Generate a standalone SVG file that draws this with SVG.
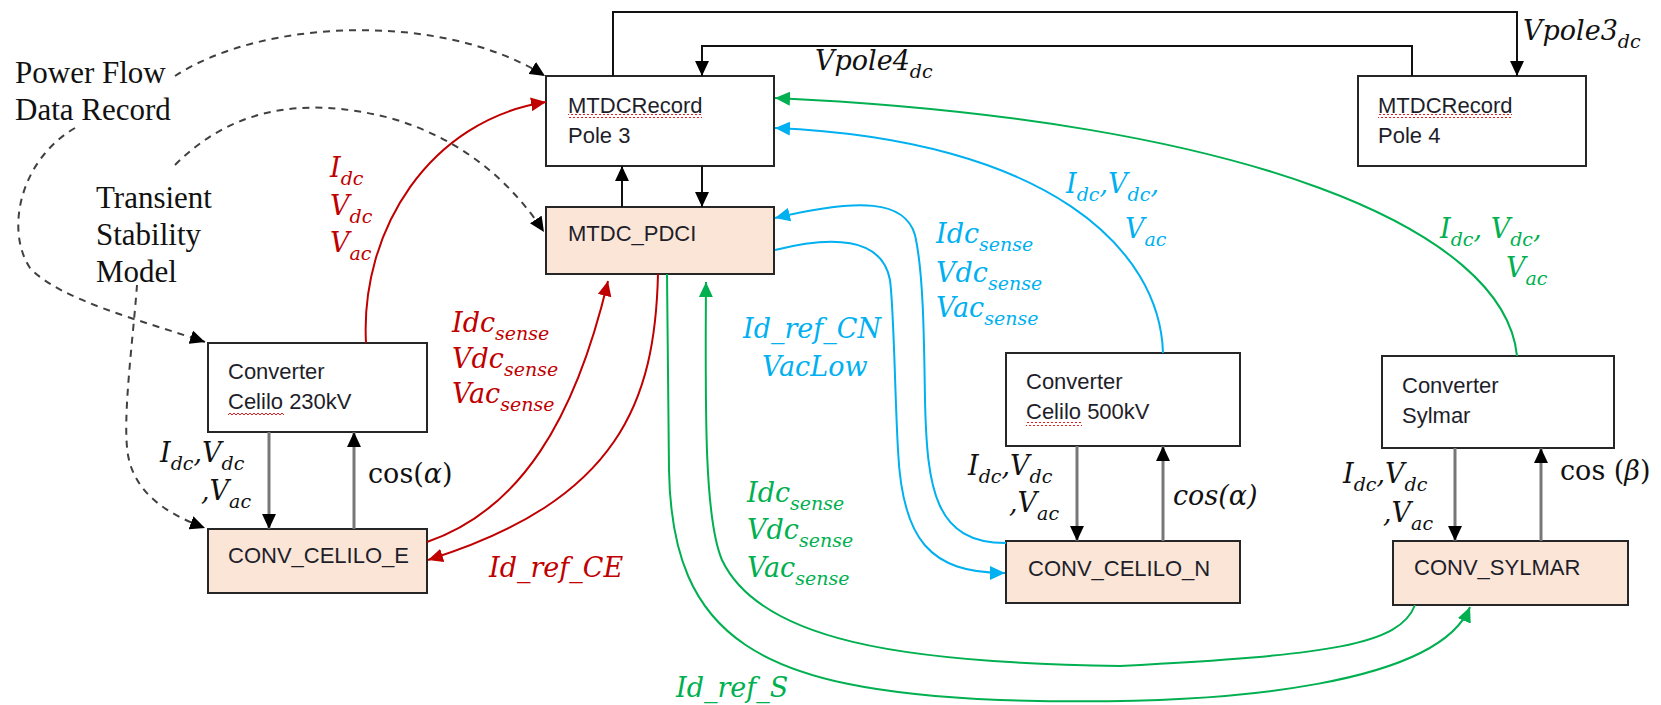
<svg xmlns="http://www.w3.org/2000/svg" width="1661" height="705" viewBox="0 0 1661 705">
<defs>
<style>
.bx{fill:#fff;stroke:#262626;stroke-width:2}
.bo{fill:#FBE5D6;stroke:#262626;stroke-width:2}
.t{font-family:"Liberation Sans",Arial,sans-serif;font-size:22px;fill:#1e1e2a}
.sv{font-family:"Liberation Serif","Times New Roman",serif;font-size:31px;fill:#111}
.m{font-family:"DejaVu Serif",serif;font-style:italic;font-size:27px;fill:#111}
.up{font-style:normal}
.s{font-size:19px}
.red{fill:#C00000}.blue{fill:#00B0F0}.green{fill:#00B050}
.k{fill:none;stroke:#111;stroke-width:2}
.g{fill:none;stroke:#777;stroke-width:3}
.d{fill:none;stroke:#404040;stroke-width:2;stroke-dasharray:7 6}
.cr{fill:none;stroke:#C00000;stroke-width:2}
.cb{fill:none;stroke:#00B0F0;stroke-width:2}
.cg{fill:none;stroke:#00B050;stroke-width:2}
</style>
<marker id="ak" viewBox="0 0 14 13" refX="14" refY="6.5" markerWidth="15" markerHeight="14" markerUnits="userSpaceOnUse" orient="auto"><path d="M0,0 L14,6.5 L0,13 z" fill="#000"/></marker>
<marker id="ar" viewBox="0 0 14 13" refX="14" refY="6.5" markerWidth="15" markerHeight="14" markerUnits="userSpaceOnUse" orient="auto"><path d="M0,0 L14,6.5 L0,13 z" fill="#C00000"/></marker>
<marker id="ab" viewBox="0 0 14 13" refX="14" refY="6.5" markerWidth="15" markerHeight="14" markerUnits="userSpaceOnUse" orient="auto"><path d="M0,0 L14,6.5 L0,13 z" fill="#00B0F0"/></marker>
<marker id="ag" viewBox="0 0 14 13" refX="14" refY="6.5" markerWidth="15" markerHeight="14" markerUnits="userSpaceOnUse" orient="auto"><path d="M0,0 L14,6.5 L0,13 z" fill="#00B050"/></marker>
<pattern id="sq" width="4" height="4" patternUnits="userSpaceOnUse"><path d="M0,3 L2,1 L4,3" fill="none" stroke="#e02020" stroke-width="1"/></pattern>
</defs>

<g id="node-pole3">
<rect class="bx" x="546" y="76" width="228" height="90"/>
<text class="t" x="568" y="113">MTDCRecord</text>
<rect x="568" y="114" width="134" height="4" fill="url(#sq)"/>
<text class="t" x="568" y="143">Pole 3</text>
</g>
<g id="node-pole4">
<rect class="bx" x="1358" y="76" width="228" height="90"/>
<text class="t" x="1378" y="113">MTDCRecord</text>
<rect x="1378" y="114" width="134" height="4" fill="url(#sq)"/>
<text class="t" x="1378" y="143">Pole 4</text>
</g>
<g id="node-pdci">
<rect class="bo" x="546" y="207" width="228" height="67"/>
<text class="t" x="568" y="241">MTDC_PDCI</text>
</g>
<g id="node-conv230">
<rect class="bx" x="208" y="343" width="219" height="89"/>
<text class="t" x="228" y="379">Converter</text>
<text class="t" x="228" y="409">Celilo 230kV</text>
<rect x="228" y="412" width="56" height="4" fill="url(#sq)"/>
</g>
<g id="node-conv-celilo-e">
<rect class="bo" x="208" y="529" width="219" height="64"/>
<text class="t" x="228" y="563">CONV_CELILO_E</text>
</g>
<g id="node-conv500">
<rect class="bx" x="1006" y="353" width="234" height="93"/>
<text class="t" x="1026" y="389">Converter</text>
<text class="t" x="1026" y="419">Celilo 500kV</text>
<rect x="1026" y="422" width="56" height="4" fill="url(#sq)"/>
</g>
<g id="node-conv-celilo-n">
<rect class="bo" x="1006" y="541" width="234" height="62"/>
<text class="t" x="1028" y="576">CONV_CELILO_N</text>
</g>
<g id="node-conv-sylmar-top">
<rect class="bx" x="1382" y="356" width="232" height="92"/>
<text class="t" x="1402" y="393">Converter</text>
<text class="t" x="1402" y="423">Sylmar</text>
</g>
<g id="node-conv-sylmar">
<rect class="bo" x="1393" y="541" width="235" height="64"/>
<text class="t" x="1414" y="575">CONV_SYLMAR</text>
</g>
<g id="node-texts">
<text class="sv" x="15" y="83">Power Flow</text>
<text class="sv" x="15" y="120">Data Record</text>
<text class="sv" x="96" y="208">Transient</text>
<text class="sv" x="96" y="245">Stability</text>
<text class="sv" x="96" y="282">Model</text>
</g>

<g id="connectors">
<path class="d" d="M175,76 C260,20 440,10 545,76" marker-end="url(#ak)"/>
<path class="d" d="M175,165 C230,110 300,95 390,118 C460,138 510,180 544,232" marker-end="url(#ak)"/>
<path class="d" d="M75,128 C20,160 5,230 30,268 C60,300 140,320 205,342" marker-end="url(#ak)"/>
<path class="d" d="M137,285 C133,340 122,420 128,455 C135,495 170,515 205,528" marker-end="url(#ak)"/>

<path class="k" d="M613,76 L613,12 L1517,12 L1517,76" marker-end="url(#ak)"/>
<path class="k" d="M1412,76 L1412,46 L702,46 L702,76" marker-end="url(#ak)"/>
<path class="k" d="M622,207 L622,166" marker-end="url(#ak)"/>
<path class="k" d="M702,166 L702,207" marker-end="url(#ak)"/>

<path class="g" d="M269,432 L269,529" marker-end="url(#ak)"/>
<path class="g" d="M354,529 L354,432" marker-end="url(#ak)"/>
<path class="g" d="M1077,446 L1077,541" marker-end="url(#ak)"/>
<path class="g" d="M1163,541 L1163,446" marker-end="url(#ak)"/>
<path class="g" d="M1455,448 L1455,541" marker-end="url(#ak)"/>
<path class="g" d="M1541,541 L1541,448" marker-end="url(#ak)"/>

<path class="cr" d="M366,343 C360,230 430,120 546,102" marker-end="url(#ar)"/>
<path class="cr" d="M427,542 C520,510 575,420 608,281" marker-end="url(#ar)"/>
<path class="cr" d="M658,274 C655,400 620,500 428,560" marker-end="url(#ar)"/>

<path class="cb" d="M1163,353 C1160,250 1050,140 775,128" marker-end="url(#ab)"/>
<path class="cb" d="M1006,543 C935,543 927,490 925,400 C924,330 923,270 915,235 C905,200 860,198 775,218" marker-end="url(#ab)"/>
<path class="cb" d="M775,250 C830,236 882,236 890,280 C894,310 895,400 898,450 C902,540 930,573 1005,573" marker-end="url(#ab)"/>

<path class="cg" d="M1517,356 C1505,230 1250,120 775,98" marker-end="url(#ag)"/>
<path class="cg" d="M667,274 L669,470 C672,640 760,690 1000,700 C1250,708 1440,680 1470,607" marker-end="url(#ag)"/>
<path class="cg" d="M1415,605 C1400,645 1330,655 1120,666 C900,663 760,640 722,560 C705,520 705,420 706,282" marker-end="url(#ag)"/>
</g>

<g id="labels">
<text class="m" x="815" y="70">Vpole4<tspan class="s" dy="8">dc</tspan></text>
<text class="m" x="1523" y="40">Vpole3<tspan class="s" dy="8">dc</tspan></text>

<text class="m red" x="330" y="177">I<tspan class="s" dy="8">dc</tspan></text>
<text class="m red" x="330" y="215">V<tspan class="s" dy="8">dc</tspan></text>
<text class="m red" x="330" y="252">V<tspan class="s" dy="8">ac</tspan></text>

<text class="m red" x="452" y="332">Idc<tspan class="s" dy="8">sense</tspan></text>
<text class="m red" x="452" y="368">Vdc<tspan class="s" dy="8">sense</tspan></text>
<text class="m red" x="452" y="403">Vac<tspan class="s" dy="8">sense</tspan></text>
<text class="m red" x="489" y="577">Id_ref_CE</text>

<text class="m blue" x="1066" y="193">I<tspan class="s" dy="8">dc</tspan><tspan dy="-8">,V</tspan><tspan class="s" dy="8">dc</tspan><tspan dy="-8">,</tspan></text>
<text class="m blue" x="1125" y="238">V<tspan class="s" dy="8">ac</tspan></text>
<text class="m blue" x="936" y="243">Idc<tspan class="s" dy="8">sense</tspan></text>
<text class="m blue" x="936" y="282">Vdc<tspan class="s" dy="8">sense</tspan></text>
<text class="m blue" x="936" y="317">Vac<tspan class="s" dy="8">sense</tspan></text>
<text class="m blue" x="743" y="338">Id_ref_CN</text>
<text class="m blue" x="762" y="376">VacLow</text>

<text class="m green" x="1440" y="238">I<tspan class="s" dy="8">dc</tspan><tspan dy="-8">, V</tspan><tspan class="s" dy="8">dc</tspan><tspan dy="-8">,</tspan></text>
<text class="m green" x="1506" y="277">V<tspan class="s" dy="8">ac</tspan></text>
<text class="m green" x="747" y="502">Idc<tspan class="s" dy="8">sense</tspan></text>
<text class="m green" x="747" y="539">Vdc<tspan class="s" dy="8">sense</tspan></text>
<text class="m green" x="747" y="577">Vac<tspan class="s" dy="8">sense</tspan></text>
<text class="m green" x="676" y="697">Id_ref_S</text>

<text class="m" x="160" y="462">I<tspan class="s" dy="8">dc</tspan><tspan dy="-8">,V</tspan><tspan class="s" dy="8">dc</tspan></text>
<text class="m" x="201" y="500">,V<tspan class="s" dy="8">ac</tspan></text>
<text class="m" x="368" y="483"><tspan class="up">cos(</tspan>α<tspan class="up">)</tspan></text>

<text class="m" x="968" y="475">I<tspan class="s" dy="8">dc</tspan><tspan dy="-8">,V</tspan><tspan class="s" dy="8">dc</tspan></text>
<text class="m" x="1009" y="512">,V<tspan class="s" dy="8">ac</tspan></text>
<text class="m" x="1173" y="505">cos(α)</text>

<text class="m" x="1343" y="483">I<tspan class="s" dy="8">dc</tspan><tspan dy="-8">,V</tspan><tspan class="s" dy="8">dc</tspan></text>
<text class="m" x="1383" y="522">,V<tspan class="s" dy="8">ac</tspan></text>
<text class="m" x="1560" y="480"><tspan class="up">cos (</tspan>β<tspan class="up">)</tspan></text>
</g>
</svg>
